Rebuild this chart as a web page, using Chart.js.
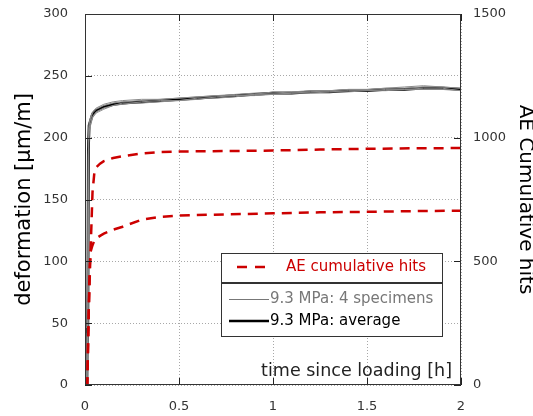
<!DOCTYPE html>
<html><head><meta charset="utf-8">
<script src="https://cdn.jsdelivr.net/npm/chart.js@4/dist/chart.umd.min.js"></script>
<style>html,body{margin:0;padding:0;background:#fff}#wrap{width:533px;height:416px}</style>
</head><body><div id="wrap"><canvas id="c" width="533" height="416"></canvas></div>
<script>
// ---- data ----
const timeH = [0, 0.01, 0.012, 0.015, 0.018, 0.022, 0.03, 0.04, 0.06, 0.1, 0.15, 0.2, 0.3, 0.4, 0.5, 0.6, 0.7, 0.8, 0.9, 1.0, 1.1, 1.2, 1.3, 1.4, 1.5, 1.6, 1.7, 1.8, 1.9, 2.0];
const avgDef = [0, 0, 45, 50, 190, 210, 214, 219, 222, 225, 227, 228, 229, 230, 231, 232, 233, 234, 235, 236, 236, 237, 237, 238, 238, 239, 239, 240, 240, 239];
const spec1 = [0, 0, 40, 48, 185, 205, 210, 216, 220, 223, 226, 227, 229, 230, 230, 231, 233, 234, 234, 235, 236, 236, 237, 237, 238, 239, 239, 240, 240, 238];
const spec2 = [0, 0, 48, 52, 195, 212, 217, 221, 224, 227, 229, 230, 231, 231, 232, 233, 234, 235, 236, 236, 237, 238, 238, 239, 239, 240, 241, 242, 241, 240];
const spec3 = [0, 0, 42, 49, 188, 208, 212, 217, 221, 224, 226, 228, 228, 229, 230, 232, 232, 233, 235, 235, 236, 237, 237, 238, 238, 238, 239, 239, 239, 238];
const spec4 = [0, 0, 47, 51, 193, 211, 215, 220, 223, 226, 228, 229, 230, 231, 232, 233, 234, 234, 235, 237, 237, 237, 238, 239, 239, 240, 240, 241, 241, 240];

const aeTime = [0, 0.012, 0.02, 0.025, 0.03, 0.04, 0.05, 0.06, 0.08, 0.1, 0.15, 0.2, 0.3, 0.4, 0.5, 0.75, 1.0, 1.25, 1.5, 1.75, 2.0];
const aeHigh = [0, 0, 300, 430, 550, 780, 860, 880, 895, 905, 918, 925, 936, 942, 944, 946, 948, 952, 955, 957, 958];
const aeLow  = [0, 0, 300, 480, 540, 565, 585, 593, 603, 612, 628, 640, 668, 680, 685, 690, 694, 698, 700, 703, 705];

const xTicks = [0, 0.5, 1, 1.5, 2];
const yTicks = [0, 50, 100, 150, 200, 250, 300];
const y2Ticks = [0, 500, 1000, 1500];

const pts = (xs, ys) => xs.map((x, i) => ({x: x, y: ys[i]}));
const FONT = "'DejaVu Sans', Verdana, sans-serif";
const RED = '#cc0000';
const plain = v => String(v);

const decor = {
  id: 'decor',
  afterDatasetsDraw(chart) {
    const {ctx, chartArea: a, scales} = chart;
    ctx.save();
    ctx.strokeStyle = '#222';
    ctx.lineWidth = 1;
    const L = 7;
    const seg = (x1, y1, x2, y2) => { ctx.beginPath(); ctx.moveTo(x1, y1); ctx.lineTo(x2, y2); ctx.stroke(); };
    scales.y.ticks.forEach(t => { const p = Math.round(scales.y.getPixelForValue(t.value)) + 0.5; seg(a.left, p, a.left + L, p); });
    scales.y2.ticks.forEach(t => { const p = Math.round(scales.y2.getPixelForValue(t.value)) + 0.5; seg(a.right - L, p, a.right, p); });
    scales.x.ticks.forEach(t => { const p = Math.round(scales.x.getPixelForValue(t.value)) + 0.5; seg(p, a.bottom, p, a.bottom - L); seg(p, a.top, p, a.top + L); });
    ctx.strokeStyle = '#333';
    ctx.strokeRect(Math.round(a.left) + 0.5, Math.round(a.top) + 0.5, Math.round(a.right - a.left) - 1, Math.round(a.bottom - a.top) - 1);

    // x-axis title inside plot
    ctx.fillStyle = '#222';
    ctx.font = '17.5px ' + FONT;
    ctx.textAlign = 'right';
    ctx.textBaseline = 'alphabetic';
    ctx.fillText('time since loading [h]', a.right - 9, a.bottom - 9);

    // legend box
    const bx = 221, by = 253, bw = 221, bh = 83, div = 283;
    ctx.fillStyle = '#fff';
    ctx.fillRect(bx, by, bw, bh);
    ctx.strokeStyle = '#333';
    ctx.lineWidth = 1;
    ctx.strokeRect(bx + 0.5, by + 0.5, bw, bh);
    ctx.lineWidth = 2;
    seg(bx, div, bx + bw, div);
    // red dashed sample
    ctx.strokeStyle = RED; ctx.lineWidth = 2.5; ctx.setLineDash([10, 8]);
    seg(237, 267, 266, 267);
    ctx.setLineDash([]);
    ctx.font = '15px ' + FONT;
    ctx.textAlign = 'left';
    ctx.textBaseline = 'middle';
    ctx.fillStyle = RED;
    ctx.fillText('AE cumulative hits', 286, 267);
    ctx.strokeStyle = '#777'; ctx.lineWidth = 1;
    seg(229, 299.5, 269, 299.5);
    ctx.fillStyle = '#777';
    ctx.fillText('9.3 MPa: 4 specimens', 270, 299);
    ctx.strokeStyle = '#000'; ctx.lineWidth = 2.5;
    seg(229, 321, 269, 321);
    ctx.fillStyle = '#000';
    ctx.fillText('9.3 MPa: average', 270, 321);
    ctx.restore();
  }
};

const gridCommon = { color: '#a8a8a8', lineWidth: 1, drawTicks: false };
const noPad = s => { s.paddingTop = 0; s.paddingBottom = 0; s.paddingLeft = 0; s.paddingRight = 0; };

new Chart(document.getElementById('c'), {
  type: 'line',
  data: {
    datasets: [
      {data: pts(aeTime, aeHigh), yAxisID: 'y2', borderColor: RED, borderWidth: 2.5, borderDash: [10, 7]},
      {data: pts(aeTime, aeLow), yAxisID: 'y2', borderColor: RED, borderWidth: 2.5, borderDash: [10, 7]},
      {data: pts(timeH, spec1), yAxisID: 'y', borderColor: '#8a8a8a', borderWidth: 1},
      {data: pts(timeH, spec2), yAxisID: 'y', borderColor: '#8a8a8a', borderWidth: 1},
      {data: pts(timeH, spec3), yAxisID: 'y', borderColor: '#8a8a8a', borderWidth: 1},
      {data: pts(timeH, spec4), yAxisID: 'y', borderColor: '#8a8a8a', borderWidth: 1},
      {data: pts(timeH, avgDef), yAxisID: 'y', borderColor: '#000', borderWidth: 2.8}
    ]
  },
  options: {
    responsive: false,
    animation: false,
    layout: {padding: {top: 14, left: 0, right: 0, bottom: 0}},
    elements: {point: {radius: 0}, line: {tension: 0, fill: false}},
    plugins: {legend: {display: false}, tooltip: {enabled: false}},
    scales: {
      x: {
        type: 'linear', min: 0, max: 2,
        afterBuildTicks: s => { s.ticks = xTicks.map(v => ({value: v})); },
        afterFit: s => { s.height = 31; noPad(s); },
        grid: gridCommon,
        border: {display: false, dash: [1, 2]},
        ticks: {padding: 14, color: '#333', font: {family: FONT, size: 13}, maxRotation: 0, callback: plain}
      },
      y: {
        type: 'linear', position: 'left', min: 0, max: 300,
        afterBuildTicks: s => { s.ticks = yTicks.map(v => ({value: v})); },
        afterFit: s => { s.width = 85; noPad(s); },
        grid: gridCommon,
        border: {display: false, dash: [1, 2]},
        ticks: {padding: 17, color: '#333', font: {family: FONT, size: 13}, callback: plain},
        title: {display: true, text: 'deformation [μm/m]', color: '#000', font: {family: FONT, size: 21}, padding: {top: 12, bottom: 0}}
      },
      y2: {
        type: 'linear', position: 'right', min: 0, max: 1500,
        afterBuildTicks: s => { s.ticks = y2Ticks.map(v => ({value: v})); },
        afterFit: s => { s.width = 72; noPad(s); },
        grid: {display: false, drawTicks: false},
        border: {display: false},
        ticks: {padding: 12, color: '#333', font: {family: FONT, size: 13}, callback: plain},
        title: {display: true, text: 'AE Cumulative hits', color: '#000', font: {family: FONT, size: 20, lineHeight: 0.8}, padding: {top: 0, bottom: 0}}
      }
    }
  },
  plugins: [decor]
});
</script></body></html>
